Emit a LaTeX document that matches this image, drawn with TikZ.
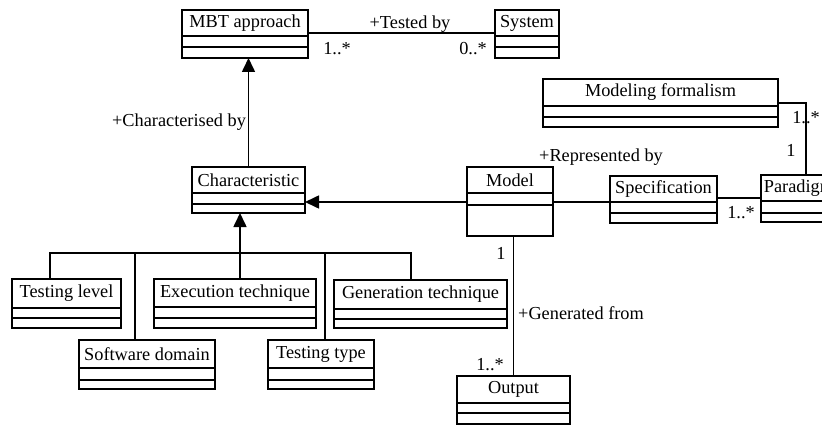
\documentclass[tikz,border=0pt]{standalone}
\usepackage{fontspec}
\setmainfont{Liberation Serif}
\usetikzlibrary{arrows.meta,calc}
\tikzset{
  clsbox/.style={draw, line width=1.7pt, inner sep=0pt, outer sep=0pt, fill=white},
  clsline/.style={line width=1.7pt},
  clstext/.style={inner sep=0pt, font=\fontsize{18.3}{20}\selectfont},
  lbl/.style={inner sep=0pt, font=\fontsize{18.3}{20}\selectfont},
  conn/.style={line width=1.6pt},
  gen/.style={line width=1.6pt, -{Triangle[length=14pt,width=13pt]}},
}
% #1 name, #2 x, #3 y, #4 w, #5 h, #6 name-compartment height, #7 second compartment height, #8 text
\newcommand\umlcls[8]{%
  \node[clsbox, minimum width=#4pt, minimum height=#5pt, anchor=north west] (#1) at (#2,#3) {};
  \node[clstext] (#1-t) at ([yshift={-#6pt/2}]#1.north) {#8};
  \draw[clsline] ([yshift=-#6pt]#1.north west) -- ([yshift=-#6pt]#1.north east);
  \draw[clsline] ([yshift={-#6pt-#7pt}]#1.north west) -- ([yshift={-#6pt-#7pt}]#1.north east);
}
\begin{document}
\begin{tikzpicture}[x=1pt,y=-1pt]
\useasboundingbox (0,0) rectangle (822,425);
\clip (0,0) rectangle (822,425);

\coordinate (ta) at (182,33);
\coordinate (gbar) at (240,253);
\coordinate (y202) at (0,202);
\coordinate (y198) at (0,198);
\coordinate (mfc) at (806,103);

\umlcls{mbt}{182}{10}{126}{48}{26}{11}{MBT approach}
\umlcls{sys}{495}{10}{64}{48}{26}{11}{System}
\umlcls{mf}{543}{79}{235}{48}{27}{11}{Modeling formalism}
\umlcls{char}{192}{167}{113}{46}{26}{11}{Characteristic}
\umlcls{model}{467}{167}{86}{69}{26}{12}{Model}
\umlcls{spec}{610}{176}{107}{47}{26}{11}{Specification}
\umlcls{par}{761}{175}{76}{47}{26}{12}{Paradigm}
\umlcls{tl}{12}{279}{109}{49}{29}{10}{Testing level}
\umlcls{sd}{79}{340}{136}{49}{28}{12}{Software domain}
\umlcls{et}{154}{279}{162}{49}{28}{11}{Execution technique}
\umlcls{tt}{268}{340}{106}{49}{28}{12}{Testing type}
\umlcls{gt}{334}{280}{173}{48}{29}{10}{Generation technique}
\umlcls{out}{457}{376}{113}{48}{27}{10}{Output}

% associations
\draw[conn] (mbt.east |- ta) -- (sys.west |- ta);
\draw[conn] (model.east |- y202) -- (spec.west |- y202);
\draw[conn] (spec.east |- y198) -- (par.west |- y198);
\draw[conn] (mf.east |- mfc) -- (mfc) -- (mfc |- par.north);
\draw[conn] (out.north) -- (out.north |- model.south);

% generalisations
\draw[gen] (char.north) -- (char.north |- mbt.south);
\draw[gen] (model.west |- y202) -- (char.east |- y202);
\draw[gen] (gbar) -- (gbar |- char.south);
\draw[conn] (tl.north -| 50,0) |- (gbar) -| (gt.north -| 411,0);
\draw[conn] (sd.north -| 135,0) -- (135,253);
\draw[conn] (gbar) -- (et.north -| gbar);
\draw[conn] (tt.north -| 325,0) -- (325,253);

% labels
\node[lbl] (l1) at (410,24) {+Tested by};
\node[lbl] (l2) at (337,49) {1..*};
\node[lbl] (l3) at (473,49) {0..*};
\node[lbl] (l4) at (179,122) {+Characterised by};
\node[lbl] (l5) at (601,157) {+Represented by};
\node[lbl] (l6) at (806,118) {1..*};
\node[lbl] (l7) at (791,150) {1};
\node[lbl] (l8) at (741,213) {1..*};
\node[lbl] (l9) at (501,253) {1};
\node[lbl, anchor=west] (l10) at (518,313) {+Generated from};
\node[lbl] (l11) at (490,365) {1..*};
\end{tikzpicture}
\end{document}
